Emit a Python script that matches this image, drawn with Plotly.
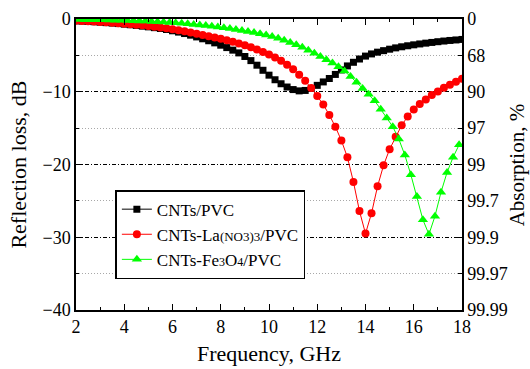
import plotly.graph_objects as go

# ---- data ----
freq_step = 0.25
rl_cnts = [-0.25, -0.29, -0.33, -0.38, -0.44, -0.50, -0.56, -0.63,
           -0.71, -0.79, -0.88, -0.98, -1.08, -1.19, -1.31, -1.44,
           -1.62, -1.80, -2.00, -2.22,
           -2.46, -2.72, -2.99, -3.28,
           -3.60, -3.93, -4.28, -4.66,
           -5.15, -5.72, -6.35, -7.05,
           -7.72, -8.35, -8.90, -9.35,
           -9.70, -9.88, -9.82, -9.55,
           -9.12, -8.65, -8.18, -7.62,
           -7.00, -6.45, -5.95, -5.50,
           -5.10, -4.80, -4.56, -4.35,
           -4.15, -3.97, -3.82, -3.68,
           -3.55, -3.43, -3.32, -3.22,
           -3.12, -3.03, -2.95, -2.88,
           -2.81]
rl_la = [-0.25, -0.28, -0.31, -0.35, -0.40, -0.45, -0.51, -0.57,
         -0.64, -0.71, -0.78, -0.86,
         -0.95, -1.05, -1.16, -1.28,
         -1.41, -1.55, -1.70, -1.86,
         -2.02, -2.19, -2.36, -2.54,
         -2.73, -2.93, -3.14, -3.37,
         -3.62, -3.90, -4.20, -4.52,
         -4.88, -5.28, -5.75, -6.28,
         -6.90, -7.65, -8.50, -9.50,
         -10.60, -11.75, -13.20, -14.80,
         -16.70, -19.00, -22.40, -26.40,
         -29.50, -26.70, -23.00, -20.10,
         -17.90, -16.20, -14.60, -13.40,
         -12.45, -11.70, -11.05, -10.45,
         -9.95, -9.45, -9.05, -8.62,
         -8.20]
fe_start = 2.13
rl_fe = [-0.08, -0.09, -0.10, -0.11, -0.12, -0.14, -0.16, -0.18,
         -0.20, -0.23, -0.26, -0.29, -0.33, -0.37, -0.42, -0.47,
         -0.53, -0.59, -0.66, -0.74, -0.82, -0.91, -1.00, -1.10,
         -1.21, -1.32, -1.44, -1.57, -1.71, -1.86, -2.02, -2.20,
         -2.42, -2.65, -2.92, -3.22, -3.55, -3.90, -4.30, -4.70,
         -5.15, -5.60, -6.05, -6.55, -7.15, -7.90, -8.70, -9.55,
         -10.35, -11.25, -12.40, -13.60, -14.80, -16.50, -18.70, -21.40,
         -24.40, -27.60, -29.60, -27.10, -23.80, -21.10, -19.00, -17.30]

freq = [2 + freq_step * i for i in range(len(rl_cnts))]
freq_fe = [fe_start + freq_step * i for i in range(len(rl_fe))]

names = ["CNTs/PVC",
         "CNTs-La<span style='font-size:13px'>(NO3)3</span>/PVC",
         "CNTs-Fe<span style='font-size:12px'>3</span>O<span style='font-size:12px'>4</span>/PVC"]

x_ticks = [2, 4, 6, 8, 10, 12, 14, 16, 18]
rl_major = [0, -10, -20, -30, -40]
rl_minor = [-5, -15, -25, -35]
rl_ticks = [0, -5, -10, -15, -20, -25, -30, -35, -40]
abs_labels = ["0", "68", "90", "97", "99", "99.7", "99.9", "99.97", "99.99"]

FONT = "Liberation Serif"

fig = go.Figure()
fig.add_trace(go.Scatter(x=freq, y=rl_cnts, name=names[0], mode="lines+markers",
                         line=dict(color="black", width=1),
                         marker=dict(symbol="square", size=7, color="black")))
fig.add_trace(go.Scatter(x=freq, y=rl_la, name=names[1], mode="lines+markers",
                         line=dict(color="#ff0000", width=1),
                         marker=dict(symbol="circle", size=8, color="#ff0000")))
fig.add_trace(go.Scatter(x=freq_fe, y=rl_fe, name=names[2], mode="lines+markers",
                         line=dict(color="#00ff00", width=1),
                         marker=dict(symbol="triangle-up", size=9, color="#00ff00")))
# invisible trace to activate the right-hand axis
fig.add_trace(go.Scatter(x=[freq[0]], y=[rl_cnts[0]], yaxis="y2", mode="markers",
                         marker=dict(opacity=0), showlegend=False, hoverinfo="skip"))

fig.update_layout(
    width=530, height=369,
    margin=dict(l=76, r=68, t=19, b=59, autoexpand=False),
    paper_bgcolor="white", plot_bgcolor="white",
    font=dict(family=FONT, size=18, color="black"),
    showlegend=True,
    legend=dict(x=0.102, y=0.412, xanchor="left", yanchor="top",
                bordercolor="black", borderwidth=1.5, bgcolor="white",
                font=dict(family=FONT, size=17, color="black"),
                itemwidth=30, tracegroupgap=0),
    xaxis=dict(range=[2, 18], tickvals=x_ticks, automargin=False,
               ticks="inside", ticklen=6, tickwidth=1, tickcolor="black",
               showline=True, linecolor="black", linewidth=1.5, mirror="ticks",
               showgrid=False, zeroline=False,
               minor=dict(dtick=1, ticks="inside", ticklen=3, tickcolor="black", showgrid=False),
               tickfont=dict(family=FONT, size=18)),
    yaxis=dict(range=[-40, 0], tickvals=rl_major, automargin=False,
               ticks="inside", ticklen=6, tickwidth=1, tickcolor="black",
               showline=True, linecolor="black", linewidth=1.5,
               showgrid=True, gridcolor="black", griddash="4px,2px,1px,2px", gridwidth=0.8,
               zeroline=False,
               minor=dict(tickvals=rl_minor, ticks="inside", ticklen=3,
                          tickcolor="black", showgrid=True, gridcolor="#a8a8a8",
                          griddash="1px,2px", gridwidth=1),
               tickfont=dict(family=FONT, size=18)),
    yaxis2=dict(range=[-40, 0], overlaying="y", side="right", automargin=False,
                tickvals=rl_ticks, ticktext=abs_labels,
                ticks="inside", ticklen=4, tickcolor="black",
                showline=True, linecolor="black", linewidth=1.5,
                showgrid=False, zeroline=False,
                tickfont=dict(family=FONT, size=18)),
    annotations=[
        dict(text="Frequency, GHz", x=0.5, y=-0.148, xref="paper", yref="paper",
             xanchor="center", yanchor="middle", showarrow=False,
             font=dict(family=FONT, size=22)),
        dict(text="Reflection loss, dB", x=-0.15, y=0.5, xref="paper", yref="paper",
             xanchor="center", yanchor="middle", showarrow=False, textangle=-90,
             font=dict(family=FONT, size=22)),
        dict(text="Absorption, %", x=1.142, y=0.5, xref="paper", yref="paper",
             xanchor="center", yanchor="middle", showarrow=False, textangle=-90,
             font=dict(family=FONT, size=21)),
    ],
)

fig.write_html("out.html", config={"displayModeBar": False},
               post_script="document.body.style.margin='0';")
